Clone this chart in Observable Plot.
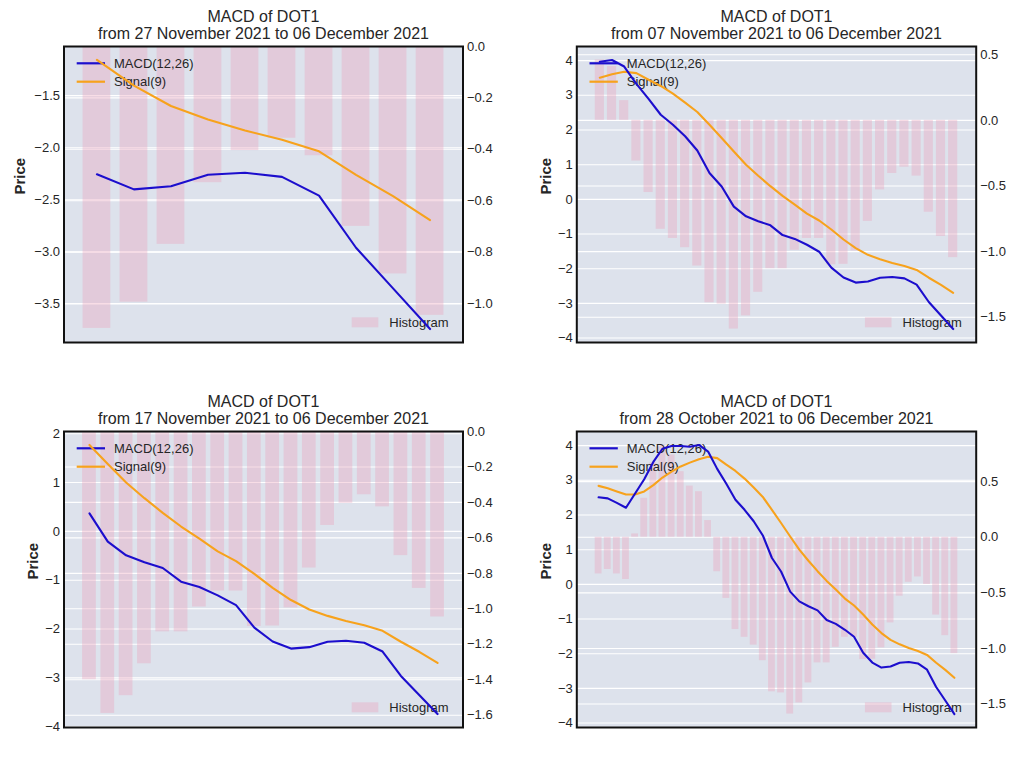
<!DOCTYPE html>
<html>
<head>
<meta charset="utf-8">
<script src="https://cdn.jsdelivr.net/npm/d3@7"></script>
<script src="https://cdn.jsdelivr.net/npm/@observablehq/plot@0.6"></script>
<style>
  html, body { margin: 0; padding: 0; background: #ffffff; }
  #chart { position: relative; width: 1027px; height: 770px; background: #ffffff; overflow: hidden; }
  .cell { position: absolute; height: 385px; }
</style>
</head>
<body>
<div id="chart"></div>
<script>
// ---- data: daily MACD of DOT1, 28 Oct 2021 .. 06 Dec 2021 (40 days) ----
const macd = [2.51, 2.48, 2.35, 2.21, 2.62, 3.03, 3.53, 3.91, 3.99, 3.99,
  3.97, 4.02, 3.83, 3.33, 2.90, 2.44, 2.15, 1.82, 1.41, 0.76,
  0.37, -0.21, -0.49, -0.63, -0.75, -1.03, -1.14, -1.31, -1.51, -1.97,
  -2.255, -2.40, -2.37, -2.26, -2.24, -2.28, -2.46, -2.96, -3.35, -3.74];
const signal = [2.84, 2.77, 2.68, 2.59, 2.59, 2.68, 2.86, 3.08, 3.25, 3.40,
  3.51, 3.61, 3.68, 3.64, 3.45, 3.27, 3.05, 2.79, 2.52, 2.15,
  1.77, 1.38, 1.00, 0.68, 0.38, 0.10, -0.15, -0.41, -0.61, -0.87,
  -1.158, -1.405, -1.60, -1.73, -1.835, -1.923, -2.035, -2.26, -2.465, -2.694];
const hist = [-0.33, -0.29, -0.33, -0.38, 0.03, 0.35, 0.67, 0.83, 0.74, 0.59,
  0.46, 0.41, 0.15, -0.31, -0.55, -0.83, -0.90, -0.97, -1.11, -1.39,
  -1.40, -1.59, -1.49, -1.31, -1.13, -1.13, -0.99, -0.90, -0.90, -1.10,
  -1.097, -0.995, -0.77, -0.53, -0.405, -0.357, -0.425, -0.70, -0.885, -1.046];

// ---- panels ----
const panelDays = [10, 30, 20, 40];
const panelTitle = "MACD of DOT1";
const panelSubtitles = [
  "from 27 November 2021 to 06 December 2021",
  "from 07 November 2021 to 06 December 2021",
  "from 17 November 2021 to 06 December 2021",
  "from 28 October 2021 to 06 December 2021"
];
const leftTicks = [
  [-1.5, -2.0, -2.5, -3.0, -3.5],
  [4, 3, 2, 1, 0, -1, -2, -3, -4],
  [2, 1, 0, -1, -2, -3, -4],
  [4, 3, 2, 1, 0, -1, -2, -3, -4]
];
const leftDecimals = [1, 0, 0, 0];
const rightTicks = [
  [0.0, -0.2, -0.4, -0.6, -0.8, -1.0],
  [0.5, 0.0, -0.5, -1.0, -1.5],
  [0.0, -0.2, -0.4, -0.6, -0.8, -1.0, -1.2, -1.4, -1.6],
  [0.5, 0.0, -0.5, -1.0, -1.5]
];
const legendLabels = ["MACD(12,26)", "Signal(9)", "Histogram"];
const yLabel = "Price";

// ---- layout / style ----
const cells = [
  {left: 0, top: 0, width: 513, ml: 63.5, mr: 50.5, priceX: 20},
  {left: 513, top: 0, width: 514, ml: 63.3, mr: 51.3, priceX: 33},
  {left: 0, top: 385, width: 513, ml: 63.5, mr: 50.5, priceX: 33},
  {left: 513, top: 385, width: 514, ml: 63.3, mr: 51.3, priceX: 33}
];
const H = 385, MT = 46, MB = 43;
const FONT = "'Liberation Sans', Arial, Helvetica, sans-serif";
const TEXT = "#262626";
const BG = "#dde2ec";
const BLUE = "#1c0ecd";
const ORANGE = "#f7a21c";
const BAR = "#eba2ba";
const BAR_OP = 0.36;

function fmt(d, dec) {
  const s = Math.abs(d).toFixed(dec);
  return (d < -1e-9 ? "\u2212" : "") + s;
}

function padded(lo, hi) {
  const r = hi - lo;
  return [lo - 0.05 * r, hi + 0.05 * r];
}

const chart = document.getElementById("chart");

panelDays.forEach((N, p) => {
  const start = macd.length - N;
  const m = macd.slice(start), s = signal.slice(start), h = hist.slice(start);
  const idx = d3.range(N);

  // left (Price) scale domain from the two lines, matplotlib-style 5% margins
  const allL = m.concat(s);
  const yDom = padded(d3.min(allL), d3.max(allL));
  // right (histogram) domain, bars stick to zero
  const hLo = Math.min(0, d3.min(h)), hHi = Math.max(0, d3.max(h));
  let rDom = padded(hLo, hHi);
  if (hHi === 0) rDom = [hLo - 0.05 * (0 - hLo), 0];
  if (hLo === 0) rDom = [0, hHi + 0.05 * hHi];
  const conv = (v) => yDom[0] + (v - rDom[0]) * (yDom[1] - yDom[0]) / (rDom[1] - rDom[0]);

  // x domain: bar extents (width 0.8) + 5% margins
  const span = (N - 1) + 0.8;
  const xDom = [-0.4 - 0.05 * span, N - 1 + 0.4 + 0.05 * span];

  const c = cells[p];
  const W = c.width;
  const L = c.ml, T = MT, R = W - c.mr, B = H - MB;

  const legend = () => {
    const g = d3.create("svg:g")
      .attr("font-family", FONT).attr("font-size", 13).attr("fill", TEXT)
      .attr("text-anchor", "start");
    g.append("line").attr("x1", L + 13.2).attr("x2", L + 41.5)
      .attr("y1", T + 17.3).attr("y2", T + 17.3)
      .attr("stroke", BLUE).attr("stroke-width", 2.2);
    g.append("line").attr("x1", L + 13.2).attr("x2", L + 41.5)
      .attr("y1", T + 35.7).attr("y2", T + 35.7)
      .attr("stroke", ORANGE).attr("stroke-width", 2.2);
    g.append("text").attr("x", L + 50.5).attr("y", T + 17.3).attr("dy", "0.35em").text(legendLabels[0]);
    g.append("text").attr("x", L + 50.5).attr("y", T + 35.7).attr("dy", "0.35em").text(legendLabels[1]);
    g.append("rect").attr("x", R - 110.8).attr("y", B - 24.7).attr("width", 26.6).attr("height", 10)
      .attr("fill", BAR).attr("fill-opacity", BAR_OP);
    g.append("text").attr("x", R - 73.2).attr("y", B - 19.7).attr("dy", "0.35em").text(legendLabels[2]);
    return g.node();
  };

  const plot = Plot.plot({
    width: W,
    height: H,
    marginLeft: c.ml,
    marginRight: c.mr,
    marginTop: MT,
    marginBottom: MB,
    x: {type: "linear", domain: xDom, axis: null},
    y: {type: "linear", domain: yDom, axis: null},
    style: {fontFamily: FONT, fontSize: "13px", color: TEXT, background: "transparent", overflow: "visible"},
    marks: [
      Plot.frame({fill: BG}),
      Plot.ruleY(leftTicks[p], {stroke: "#ffffff", strokeWidth: 1.1}),
      Plot.ruleY(rightTicks[p], {y: (d) => conv(d), stroke: "#ffffff", strokeWidth: 1.1}),
      Plot.rect(idx, {
        x1: (i) => i - 0.375, x2: (i) => i + 0.375,
        y1: () => conv(0), y2: (i) => conv(h[i]),
        fill: BAR, fillOpacity: BAR_OP, inset: 0
      }),
      legend,
      Plot.line(idx, {x: (i) => i, y: (i) => s[i], stroke: ORANGE, strokeWidth: 2.1}),
      Plot.line(idx, {x: (i) => i, y: (i) => m[i], stroke: BLUE, strokeWidth: 2.1}),
      Plot.frame({stroke: "#111111", strokeWidth: 2}),
      // left tick labels
      Plot.text(leftTicks[p], {
        y: (d) => d, frameAnchor: "left", dx: -4, textAnchor: "end", lineAnchor: "middle",
        text: (d) => fmt(d, leftDecimals[p]), fontSize: 13, fill: TEXT
      }),
      // right tick labels
      Plot.text(rightTicks[p], {
        y: (d) => conv(d), frameAnchor: "right", dx: 4, textAnchor: "start", lineAnchor: "middle",
        text: (d) => fmt(d, 1), fontSize: 13, fill: TEXT
      }),
      // y label
      Plot.text([yLabel], {
        frameAnchor: "left", dx: c.priceX - c.ml, rotate: -90, text: (d) => d,
        lineAnchor: "middle", fontSize: 15, fontWeight: "bold", fill: TEXT
      }),
      // titles
      Plot.text([panelTitle], {frameAnchor: "top", dy: -30, lineAnchor: "middle", text: (d) => d, fontSize: 16, fill: TEXT}),
      Plot.text([panelSubtitles[p]], {frameAnchor: "top", dy: -13, lineAnchor: "middle", text: (d) => d, fontSize: 16, fill: TEXT})
    ]
  });

  const div = document.createElement("div");
  div.className = "cell";
  div.style.left = c.left + "px";
  div.style.top = c.top + "px";
  div.style.width = W + "px";
  div.appendChild(plot);
  chart.appendChild(div);
});
</script>
</body>
</html>
